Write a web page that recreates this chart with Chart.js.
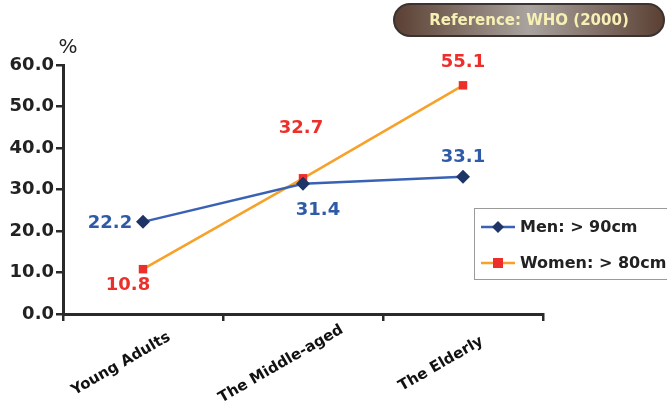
<!DOCTYPE html>
<html>
<head>
<meta charset="utf-8">
<script src="https://cdn.jsdelivr.net/npm/chart.js@4.4.0/dist/chart.umd.min.js"></script>
<style>
  html, body { margin: 0; padding: 0; background: #fff; }
  #wrap { position: relative; width: 667px; height: 414px; }
  #ref {
    position: absolute; left: 393px; top: 3px; width: 268px; height: 30px;
    border: 2px solid #3a3330; border-radius: 17px;
    background: linear-gradient(to right, #5b4033 0%, #8a7b73 30%, #a9a39f 50%, #8a7b73 70%, #5b4033 100%);
    color: #f6f0b4; font: bold 15px "DejaVu Sans", sans-serif;
    text-align: center; line-height: 30px;
  }
</style>
</head>
<body>
<div id="wrap">
  <canvas id="chart" width="667" height="414"></canvas>
  <div id="ref">Reference: WHO (2000)</div>
</div>
<script>
const categories = ["Young Adults", "The Middle-aged", "The Elderly"];
const menValues = [22.2, 31.4, 33.1];
const womenValues = [10.8, 32.7, 55.1];
const yTicks = [0, 10, 20, 30, 40, 50, 60];

// where each value label sits relative to its point (dx, dy)
const menLabelShift = [[-33, 1], [15, 27], [0, -19]];
const womenLabelShift = [[-15, 16], [-2, -50], [0, -23]];

const FONT = "'DejaVu Sans', sans-serif";

const valueLabels = {
  id: "valueLabels",
  afterDatasetsDraw(chart) {
    const ctx = chart.ctx;
    ctx.save();
    ctx.font = "bold 18px " + FONT;
    ctx.textAlign = "center";
    ctx.textBaseline = "middle";
    chart.data.datasets.forEach((ds, i) => {
      const meta = chart.getDatasetMeta(i);
      meta.data.forEach((pt, j) => {
        const [dx, dy] = ds.labelShift[j];
        ctx.fillStyle = ds.labelColor;
        ctx.fillText(ds.data[j].toFixed(1), pt.x + dx, pt.y + dy);
      });
    });
    ctx.restore();
  }
};

const extras = {
  id: "extras",
  afterDraw(chart) {
    const ctx = chart.ctx;
    ctx.save();
    // unit over the y axis
    ctx.fillStyle = "#222";
    ctx.font = "20px " + FONT;
    ctx.textAlign = "center";
    ctx.textBaseline = "middle";
    ctx.fillText("%", 68, 48);

    // slanted category names, centred under each point
    const xs = chart.scales.x;
    ctx.font = "bold 15px " + FONT;
    ctx.fillStyle = "#111";
    categories.forEach((name, i) => {
      ctx.save();
      ctx.translate(xs.getPixelForValue(i) - 22, xs.bottom - 50);
      ctx.rotate(-Math.PI / 6);
      ctx.fillText(name, 0, 0);
      ctx.restore();
    });

    // legend box
    ctx.strokeStyle = "#9a9a9a";
    ctx.lineWidth = 1;
    ctx.fillStyle = "#fff";
    ctx.fillRect(474.5, 208.5, 200, 71);
    ctx.strokeRect(474.5, 208.5, 200, 71);
    ctx.font = "bold 16px " + FONT;
    ctx.textAlign = "left";
    chart.data.datasets.forEach((ds, i) => {
      const y = 227 + i * 36;
      ctx.strokeStyle = ds.borderColor;
      ctx.lineWidth = 2.5;
      ctx.beginPath();
      ctx.moveTo(481, y);
      ctx.lineTo(515, y);
      ctx.stroke();
      ctx.fillStyle = ds.pointBackgroundColor;
      ctx.beginPath();
      if (ds.pointStyle === "rectRot") {
        ctx.moveTo(498, y - 6); ctx.lineTo(504, y); ctx.lineTo(498, y + 6); ctx.lineTo(492, y);
      } else {
        ctx.rect(493, y - 5, 10, 10);
      }
      ctx.closePath();
      ctx.fill();
      ctx.fillStyle = "#222";
      ctx.fillText(ds.label, 520, y + 1);
    });
    ctx.restore();
  }
};

new Chart(document.getElementById("chart"), {
  type: "line",
  data: {
    labels: categories,
    datasets: [
      {
        label: "Men: > 90cm",
        data: menValues,
        borderColor: "#3a62b4",
        borderWidth: 2.5,
        pointStyle: "rectRot",
        pointRadius: 7,
        pointBackgroundColor: "#1f3466",
        pointBorderColor: "#1f3466",
        pointBorderWidth: 0,
        labelColor: "#2f5aa8",
        labelShift: menLabelShift,
        tension: 0
      },
      {
        label: "Women: > 80cm",
        data: womenValues,
        borderColor: "#f7a128",
        borderWidth: 2.5,
        pointStyle: "rect",
        pointRadius: 6,
        pointBackgroundColor: "#ec2f2a",
        pointBorderColor: "#ec2f2a",
        pointBorderWidth: 0,
        labelColor: "#ec2f2a",
        labelShift: womenLabelShift,
        tension: 0
      }
    ]
  },
  options: {
    responsive: false,
    animation: false,
    layout: { padding: { top: 65, right: 124, left: 0, bottom: 0 } },
    plugins: { legend: { display: false }, tooltip: { enabled: false } },
    scales: {
      x: {
        offset: true,
        grid: { offset: true, drawOnChartArea: false, drawTicks: true, tickLength: 7, color: "#2a2a2a", lineWidth: 2.5 },
        border: { display: true, color: "#2a2a2a", width: 3 },
        ticks: { display: false },
        afterFit(scale) { scale.height = 100; }
      },
      y: {
        min: 0,
        max: 60,
        afterBuildTicks(scale) { scale.ticks = yTicks.map(v => ({ value: v })); },
        grid: { drawOnChartArea: false, drawTicks: true, tickLength: 7, color: "#2a2a2a", lineWidth: 2.5 },
        border: { display: true, color: "#2a2a2a", width: 3 },
        ticks: {
          color: "#222",
          font: { family: FONT, size: 18, weight: "bold" },
          padding: 2,
          callback: v => v.toFixed(1)
        },
        afterFit(scale) { scale.width = 63; }
      }
    }
  },
  plugins: [valueLabels, extras]
});
</script>
</body>
</html>
